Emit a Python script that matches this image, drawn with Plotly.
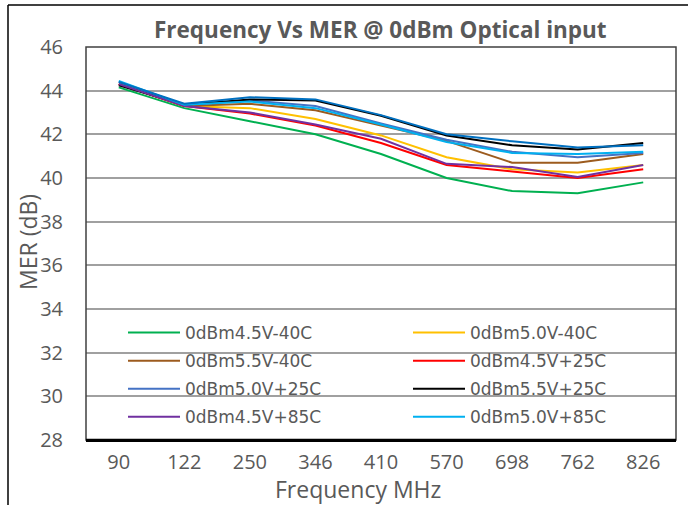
import plotly.graph_objects as go

freq = ["90", "122", "250", "346", "410", "570", "698", "762", "826"]

s_45_m40 = [44.15, 43.2, 42.6, 42.0, 41.1, 40.0, 39.4, 39.3, 39.8]
s_50_m40 = [44.3, 43.3, 43.2, 42.7, 41.95, 40.95, 40.4, 40.25, 40.6]
s_55_m40 = [44.3, 43.3, 43.4, 43.1, 42.4, 41.7, 40.7, 40.7, 41.1]
s_45_p25 = [44.3, 43.3, 42.95, 42.4, 41.6, 40.6, 40.3, 40.0, 40.4]
s_50_p25 = [44.4, 43.35, 43.55, 43.3, 42.5, 41.75, 41.2, 40.95, 41.15]
s_55_p25 = [44.25, 43.35, 43.6, 43.55, 42.85, 41.95, 41.5, 41.3, 41.6]
s_45_p85 = [44.3, 43.3, 43.0, 42.45, 41.8, 40.65, 40.5, 40.05, 40.6]
s_50_p85 = [44.45, 43.35, 43.5, 43.2, 42.45, 41.65, 41.15, 41.1, 41.2]
s_55_p85 = [44.4, 43.4, 43.7, 43.6, 42.88, 42.0, 41.68, 41.4, 41.5]

names = ["0dBm4.5V-40C", "0dBm5.0V-40C", "0dBm5.5V-40C", "0dBm4.5V+25C",
         "0dBm5.0V+25C", "0dBm5.5V+25C", "0dBm4.5V+85C", "0dBm5.0V+85C",
         "0dBm5.5V+85C"]
series = [s_45_m40, s_50_m40, s_55_m40, s_45_p25, s_50_p25, s_55_p25,
          s_45_p85, s_50_p85, s_55_p85]
colors = ["#00B050", "#FFC000", "#9C5B1E", "#FF0000", "#4472C4", "#000000",
          "#7030A0", "#00B0F0", "#0070C0"]
legend_ref = ["legend", "legend2"] * 4 + [None]

fig = go.Figure()
for i, (n, s, c, lg) in enumerate(zip(names, series, colors, legend_ref)):
    fig.add_trace(go.Scatter(x=freq, y=s, name=n, mode="lines",
                             line=dict(color=c, width=2),
                             showlegend=lg is not None,
                             legend=lg if lg else "legend",
                             legendgroup="g%d" % i))

L, R, T, B = 86, 12, 47, 65
W, H = 688, 505
pw, ph = W - L - R, H - T - B

def px_x(x):
    return (x - L) / pw

def px_y(y):
    return (H - B - y) / ph

leg_common = dict(orientation="v", xanchor="left", yanchor="top",
                  itemwidth=52, tracegroupgap=3, bgcolor="rgba(0,0,0,0)",
                  font=dict(family="DejaVu Sans", size=17, color="#595959"))

fig.update_layout(
    width=W, height=H,
    margin=dict(l=L, r=R, t=T, b=B, autoexpand=False),
    paper_bgcolor="white", plot_bgcolor="white",
    font=dict(family="Open Sans", color="#595959"),
    showlegend=True,
    legend=dict(x=px_x(123), y=px_y(315), **leg_common),
    legend2=dict(x=px_x(408), y=px_y(315), **leg_common),
    xaxis=dict(type="category", range=[-0.5, 8.5], showgrid=False, showline=True,
               linecolor="black", linewidth=2, ticks="",
               tickfont=dict(size=20, color="#595959"),
               ticklabelstandoff=3, zeroline=False),
    yaxis=dict(range=[28, 46], dtick=2, showgrid=True, gridcolor="#A0A0A0", gridwidth=1.5,
               showline=False, ticks="", tickfont=dict(size=20, color="#595959"),
               ticklabelstandoff=22, zeroline=False),
    shapes=[
        dict(type="rect", xref="paper", yref="paper", x0=0, x1=1, y0=0, y1=1,
             line=dict(color="#404040", width=1.5), layer="above"),
        dict(type="line", xref="paper", yref="paper", x0=0, x1=1, y0=0, y1=0,
             line=dict(color="black", width=2.5), layer="above"),
        dict(type="line", xref="paper", yref="paper", x0=px_x(8), x1=px_x(8),
             y0=px_y(505), y1=px_y(5), line=dict(color="black", width=1.5)),
        dict(type="line", xref="paper", yref="paper", x0=px_x(8), x1=px_x(688),
             y0=px_y(5), y1=px_y(5), line=dict(color="black", width=1.5)),
    ],
    annotations=[
        dict(text="<b>Frequency Vs MER @ 0dBm Optical input</b>", xref="paper", yref="paper",
             x=px_x(380), y=px_y(30), xanchor="center", yanchor="middle", showarrow=False,
             font=dict(family="Open Sans", size=22.5, color="#595959")),
        dict(text="MER (dB)", xref="paper", yref="paper", x=px_x(28), y=px_y(242),
             xanchor="center", yanchor="middle", textangle=-90, showarrow=False,
             font=dict(family="Open Sans", size=23, color="#595959")),
        dict(text="Frequency MHz", xref="paper", yref="paper", x=px_x(358), y=px_y(489),
             xanchor="center", yanchor="middle", showarrow=False,
             font=dict(family="Open Sans", size=23, color="#595959")),
    ],
)

fig.write_html("out.html", config={"displayModeBar": False},
               post_script="document.body.style.margin='0';")
